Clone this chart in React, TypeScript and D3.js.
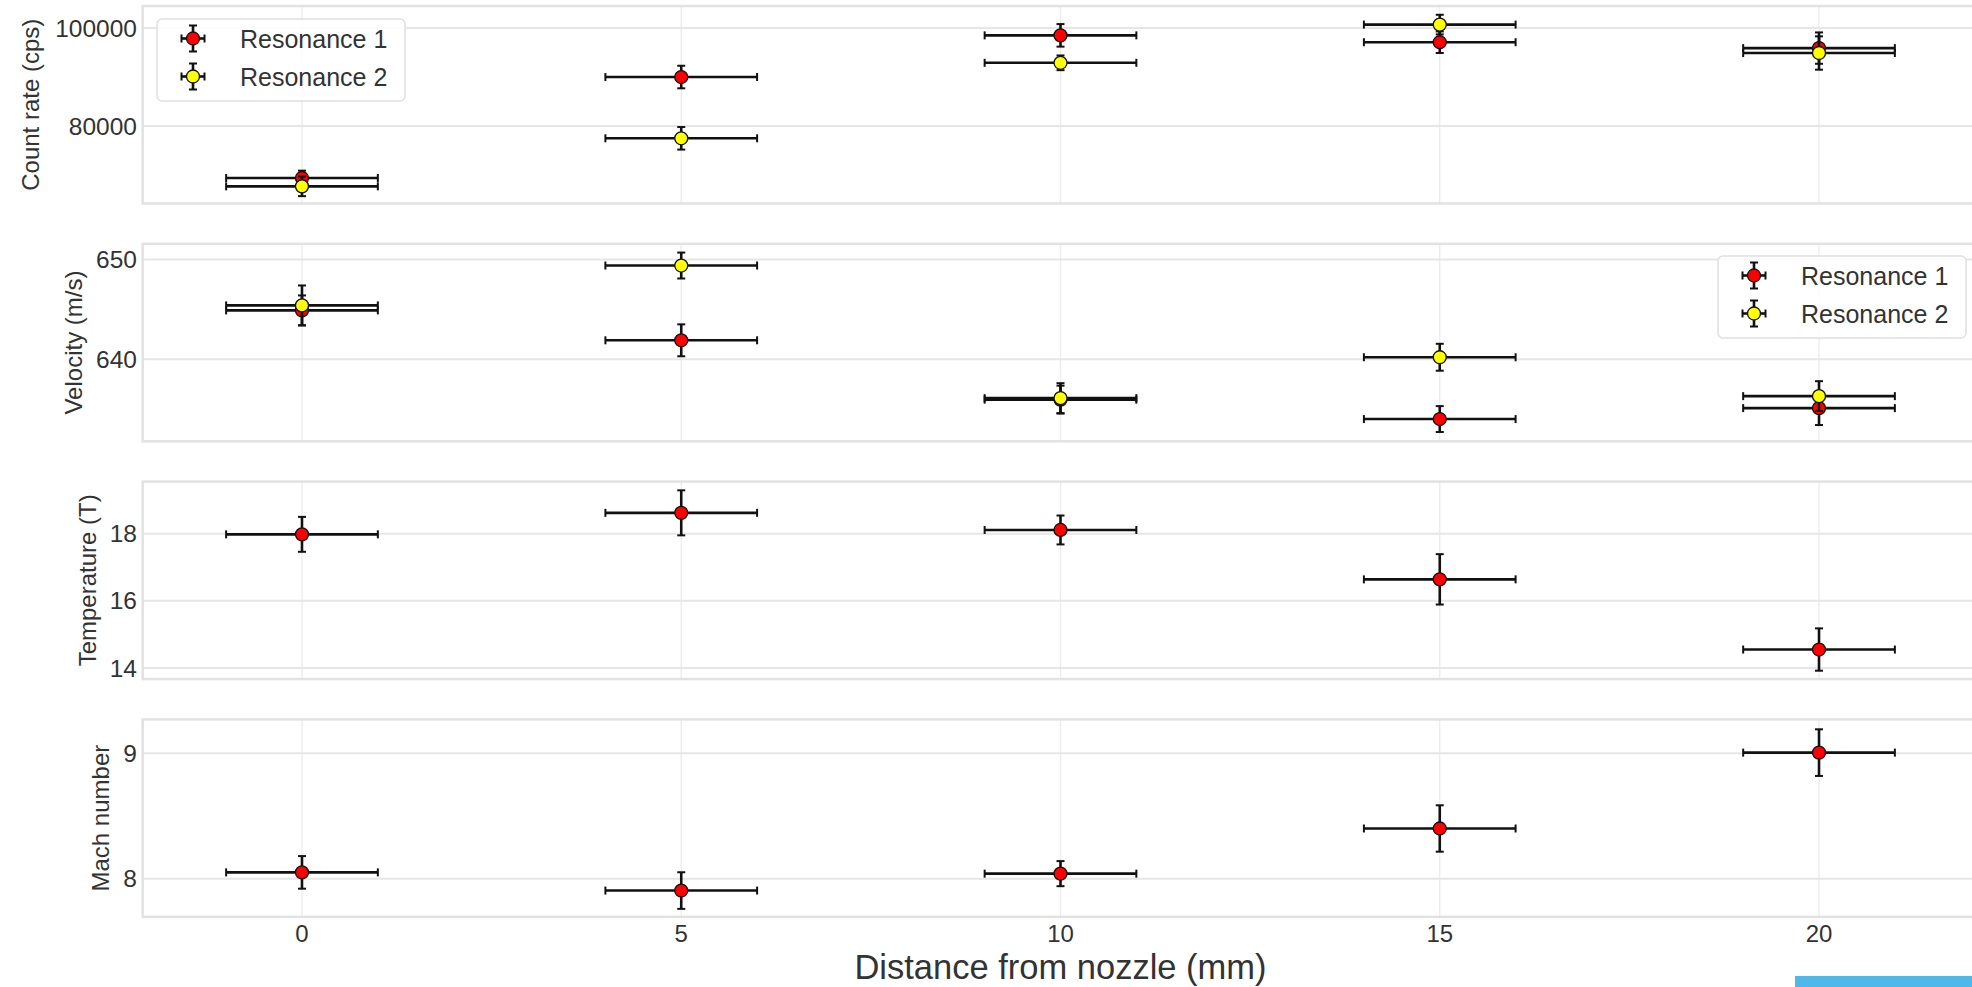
import React from "react";
import * as d3 from "d3";

// ---- data ----
const distance = [0, 5, 10, 15, 20];
const distanceErr = [1, 1, 1, 1, 1];

const countRate1 = [69400, 90000, 98500, 97100, 95900];
const countRate1Err = [1500, 2300, 2300, 2200, 3200];
const countRate2 = [67700, 77500, 92900, 100700, 94900];
const countRate2Err = [2000, 2300, 1500, 2000, 3400];

const velocity1 = [644.9, 641.9, 635.95, 634.0, 635.1];
const velocity1Err = [1.5, 1.6, 1.4, 1.3, 1.7];
const velocity2 = [645.4, 649.4, 636.1, 640.2, 636.3];
const velocity2Err = [2.0, 1.3, 1.5, 1.35, 1.5];

const temperature1 = [17.98, 18.62, 18.11, 16.64, 14.55];
const temperature1Err = [0.52, 0.67, 0.43, 0.75, 0.63];

const mach1 = [8.05, 7.905, 8.04, 8.4, 9.005];
const mach1Err = [0.13, 0.146, 0.1, 0.185, 0.186];

const xTicks = [0, 5, 10, 15, 20];
const countTicks = [80000, 100000];
const velocityTicks = [640, 650];
const temperatureTicks = [14, 16, 18];
const machTicks = [8, 9];

const seriesNames = ["Resonance 1", "Resonance 2"];
const seriesColors = ["#ff0000", "#ffff00"];

const yLabels = ["Count rate (cps)", "Velocity (m/s)", "Temperature (T)", "Mach number"];
const xLabel = "Distance from nozzle (mm)";

type Series = { y: number[]; err: number[]; color: string };

const W = 1972;
const H = 987;
const FONT = "'Liberation Sans', Arial, Helvetica, sans-serif";
const TXT = "#333333";

const xScale = d3.scaleLinear().domain([-2.1, 22.1]).range([142.7, 1978.3]);

const panelTop = (i: number) => 6 + i * 237.8;
const PANEL_H = 197.5;

const panels = [
  {
    domain: [64200, 104490],
    ticks: countTicks,
    series: [
      { y: countRate1, err: countRate1Err, color: seriesColors[0] },
      { y: countRate2, err: countRate2Err, color: seriesColors[1] },
    ] as Series[],
    labelX: 39,
    legend: { x: 157, y: 19 },
  },
  {
    domain: [631.77, 651.58],
    ticks: velocityTicks,
    series: [
      { y: velocity1, err: velocity1Err, color: seriesColors[0] },
      { y: velocity2, err: velocity2Err, color: seriesColors[1] },
    ] as Series[],
    labelX: 82,
    legend: { x: 1718, y: 256 },
  },
  {
    domain: [13.67, 19.55],
    ticks: temperatureTicks,
    series: [{ y: temperature1, err: temperature1Err, color: seriesColors[0] }] as Series[],
    labelX: 96,
    legend: null,
  },
  {
    domain: [7.695, 9.27],
    ticks: machTicks,
    series: [{ y: mach1, err: mach1Err, color: seriesColors[0] }] as Series[],
    labelX: 109,
    legend: null,
  },
];

function ErrorPoint({ cx, cy, x0, x1, y0, y1, color }: any) {
  const cap = 4;
  const sw = 2.6;
  return (
    <g>
      <line x1={x0} x2={x1} y1={cy} y2={cy} stroke="#111" strokeWidth={sw} />
      <line x1={cx} x2={cx} y1={y0} y2={y1} stroke="#111" strokeWidth={sw} />
      <line x1={x0} x2={x0} y1={cy - cap} y2={cy + cap} stroke="#111" strokeWidth={2} />
      <line x1={x1} x2={x1} y1={cy - cap} y2={cy + cap} stroke="#111" strokeWidth={2} />
      <line x1={cx - cap} x2={cx + cap} y1={y0} y2={y0} stroke="#111" strokeWidth={2} />
      <line x1={cx - cap} x2={cx + cap} y1={y1} y2={y1} stroke="#111" strokeWidth={2} />
      <circle cx={cx} cy={cy} r={6.5} fill={color} stroke="#111" strokeWidth={1.3} />
    </g>
  );
}

function Legend({ x, y }: { x: number; y: number }) {
  const w = 248;
  const h = 82;
  return (
    <g>
      <rect x={x} y={y} width={w} height={h} rx={5} fill="#ffffff" fillOpacity={0.85} stroke="#e0e0e0" strokeWidth={1.5} />
      {seriesNames.map((name, i) => {
        const cy = y + 19.5 + i * 38;
        const cx = x + 36;
        return (
          <g key={name}>
            <ErrorPoint cx={cx} cy={cy} x0={cx - 11.5} x1={cx + 11.5} y0={cy - 13} y1={cy + 13} color={seriesColors[i]} />
            <text x={x + 83} y={cy + 9} fontFamily={FONT} fontSize={25} fill={TXT}>
              {name}
            </text>
          </g>
        );
      })}
    </g>
  );
}

export default function App() {
  const [xl, xr] = xScale.range();
  return (
    <svg width={W} height={H} style={{ position: "absolute", left: 0, top: 0, background: "#fff" }}>
      {panels.map((p, pi) => {
        const top = panelTop(pi);
        const bottom = top + PANEL_H;
        const y = d3.scaleLinear().domain(p.domain).range([bottom, top]);
        return (
          <g key={pi}>
            {xTicks.map((t) => (
              <line key={"vx" + t} x1={xScale(t)} x2={xScale(t)} y1={top} y2={bottom} stroke="#ebebeb" strokeWidth={1.3} />
            ))}
            {p.ticks.map((t) => (
              <line key={"hy" + t} x1={xl} x2={xr} y1={y(t)} y2={y(t)} stroke="#e6e6e6" strokeWidth={2} />
            ))}
            <rect x={xl} y={top} width={xr - xl} height={PANEL_H} fill="none" stroke="#e2e2e2" strokeWidth={2.5} />
            {p.ticks.map((t) => (
              <text
                key={"tl" + t}
                x={137}
                y={y(t)}
                dy="0.35em"
                textAnchor="end"
                fontFamily={FONT}
                fontSize={24.5}
                fill={TXT}
              >
                {t}
              </text>
            ))}
            <text
              transform={`translate(${p.labelX},${(top + bottom) / 2}) rotate(-90)`}
              textAnchor="middle"
              fontFamily={FONT}
              fontSize={24}
              fill={TXT}
            >
              {yLabels[pi]}
            </text>
            {p.series.map((s, si) => (
              <g key={"s" + si}>
                {distance.map((d, k) => (
                  <ErrorPoint
                    key={k}
                    cx={xScale(d)}
                    cy={y(s.y[k])}
                    x0={xScale(d - distanceErr[k])}
                    x1={xScale(d + distanceErr[k])}
                    y0={y(s.y[k] + s.err[k])}
                    y1={y(s.y[k] - s.err[k])}
                    color={s.color}
                  />
                ))}
              </g>
            ))}
            {p.legend && <Legend x={p.legend.x} y={p.legend.y} />}
          </g>
        );
      })}
      {xTicks.map((t) => (
        <text key={"xt" + t} x={xScale(t)} y={942} textAnchor="middle" fontFamily={FONT} fontSize={24} fill={TXT}>
          {t}
        </text>
      ))}
      <text x={(xl + xr) / 2} y={979} textAnchor="middle" fontFamily={FONT} fontSize={34.5} fill={TXT}>
        {xLabel}
      </text>
      <rect x={1795} y={976} width={177} height={11} fill="#4fb8e8" />
    </svg>
  );
}
